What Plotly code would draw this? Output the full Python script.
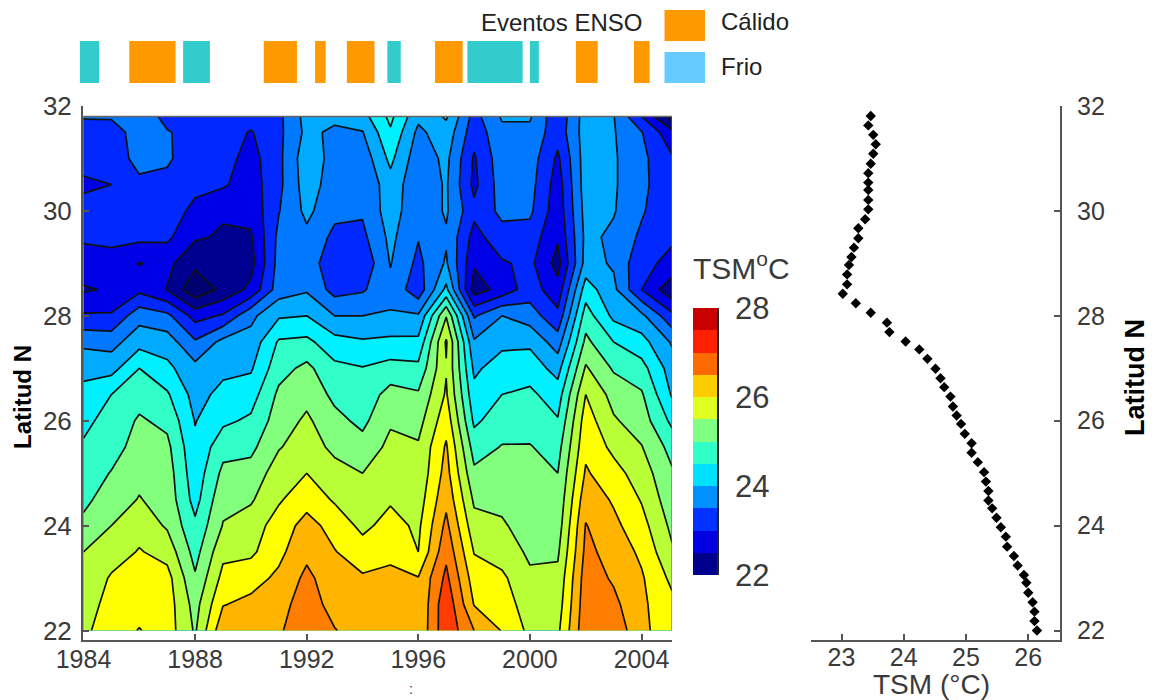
import numpy as np
import plotly.graph_objects as go

W, H = 1156, 700

# ---- Data ----
YEARS = [1984, 1985, 1986, 1987, 1988, 1989, 1990, 1991, 1992, 1993, 1994,
         1995, 1996, 1997, 1998, 1999, 2000, 2001, 2002, 2003, 2004, 2005.1]
LATS = [22, 22.5, 23, 23.5, 24, 24.5, 25, 25.5, 26, 26.5, 27, 27.5, 28, 28.5,
        29, 29.5, 30, 30.5, 31, 31.5, 31.8]

T1984 = [25.72,25.6,25.46,25.4,25.1,24.9,24.8,24.65,24.5,24.3,24.1,23.7,23.05,22.55,22.85,23.05,23.1,22.95,23.1,23.15,23.45]
T1985 = [26.0,25.95,25.85,25.6,25.4,25.2,25.02,24.85,24.75,24.6,24.05,23.65,23.05,22.65,22.85,23.1,23.2,23.0,23.15,23.2,23.45]
T1986 = [26.22,26.05,25.95,25.83,25.65,25.42,25.3,25.15,25.05,24.85,24.6,24.05,23.65,22.9,22.58,23.1,23.15,23.3,23.55,23.6,23.6]
T1987 = [26.0,26.0,25.95,25.65,25.35,25.25,25.2,25.1,24.9,24.65,24.3,24.0,23.5,22.58,22.7,23.08,23.2,23.3,23.45,23.42,23.3]
T1988 = [25.35,25.25,25.05,24.85,24.68,24.45,24.35,24.28,24.18,24.05,23.92,23.45,22.85,21.9,22.3,22.65,22.9,23.1,23.2,23.3,23.4]
T1989 = [26.5,26.18,25.92,25.7,25.42,25.3,25.1,24.85,24.52,24.32,24.1,23.92,23.05,22.3,22.3,22.55,22.65,23.05,23.15,23.2,23.35]
T1990 = [26.5,26.3,26.05,25.72,25.6,25.35,25.15,24.9,24.67,24.42,24.15,23.95,23.7,22.7,22.45,22.55,22.72,22.8,22.85,22.97,23.2]
T1991 = [26.55,26.45,26.28,26.1,25.98,25.75,25.6,25.37,25.2,25.08,24.85,24.65,24.15,23.6,23.55,23.5,23.38,23.3,23.3,23.3,23.3]
T1992 = [26.85,26.8,26.7,26.5,26.35,26.05,25.8,25.6,25.47,25.28,25.1,24.7,24.2,23.75,23.6,23.7,23.9,24.0,24.05,23.9,23.95]
T1993 = [26.62,26.45,26.35,26.22,26.05,25.75,25.55,25.3,25.12,24.9,24.7,24.35,23.8,23.25,23.15,23.3,23.5,23.6,23.65,23.72,23.9]
T1994 = [26.42,26.35,26.25,25.98,25.7,25.6,25.4,25.15,24.9,24.75,24.62,24.25,23.8,23.35,23.1,23.3,23.45,23.42,23.55,23.78,24.05]
T1995 = [26.38,26.3,26.25,26.15,25.95,25.75,25.6,25.5,25.35,25.15,24.75,24.3,23.83,23.7,23.82,23.9,24.0,24.05,24.3,24.55,24.7]
T1996 = [26.25,26.22,26.22,25.8,25.72,25.6,25.5,25.45,25.25,25.05,24.7,24.3,23.85,23.15,23.3,23.42,23.5,23.5,23.55,23.7,23.9]
T1997 = [27.3,27.3,27.1,26.9,26.7,26.5,26.35,26.25,26.05,25.85,25.77,25.85,25.38,24.3,23.85,23.75,23.85,23.85,23.9,24.05,24.25]
T1998 = [26.6,26.18,26.0,25.78,25.55,25.33,25.08,24.82,24.52,24.32,24.12,23.85,23.35,22.4,22.65,22.85,23.1,22.9,22.95,23.15,23.25]
T1999 = [26.18,26.0,25.88,25.62,25.45,25.3,25.15,25.02,24.82,24.6,24.4,24.1,23.8,22.75,22.95,23.25,23.5,23.6,23.65,23.7,23.85]
T2000 = [25.7,25.6,25.47,25.33,25.22,25.15,25.08,25.02,24.85,24.68,24.42,24.12,23.6,23.2,23.1,23.22,23.48,23.55,23.6,23.7,23.85]
T2001 = [25.72,25.6,25.5,25.34,25.2,25.1,25.0,24.85,24.63,24.4,24.05,23.6,23.1,22.75,22.45,22.65,22.75,22.8,22.93,23.15,23.1]
T2002 = [26.9,26.85,26.8,26.7,26.62,26.45,26.25,26.1,26.0,25.8,25.45,25.1,24.8,24.4,23.95,23.9,23.95,24.0,24.0,24.0,24.0]
T2003 = [26.88,26.7,26.55,26.45,26.3,26.15,25.95,25.7,25.45,25.25,24.95,24.6,24.1,23.9,23.75,23.72,23.83,23.85,23.85,23.83,23.82]
T2004 = [26.3,26.28,26.25,26.12,25.95,25.77,25.6,25.42,25.2,25.05,24.75,24.35,23.9,23.0,23.1,23.32,23.45,23.5,23.5,23.42,23.0]
T2005 = [25.95,25.9,25.7,25.45,25.3,25.15,25.05,24.85,24.5,24.15,24.0,23.75,23.1,22.3,22.9,23.05,23.05,23.1,23.05,22.7,22.0]

COLUMNS = [T1984, T1985, T1986, T1987, T1988, T1989, T1990, T1991, T1992, T1993, T1994,
           T1995, T1996, T1997, T1998, T1999, T2000, T2001, T2002, T2003, T2004, T2005]

PROFILE_LAT = [31.81,31.63,31.45,31.27,31.09,30.90,30.72,30.54,30.40,30.21,30.03,29.84,29.67,29.48,29.30,
               29.12,28.97,28.79,28.60,28.42,28.24,28.06,27.87,27.69,27.51,27.36,27.18,26.99,26.81,26.64,
               26.46,26.27,26.10,25.94,25.75,25.57,25.39,25.21,25.02,24.84,24.66,24.48,24.33,24.15,23.97,
               23.79,23.60,23.42,23.24,23.06,22.91,22.72,22.54,22.36,22.18,22.00]
PROFILE_TSM = [23.47,23.43,23.51,23.55,23.51,23.47,23.43,23.43,23.43,23.43,23.43,23.38,23.27,23.27,23.20,
               23.16,23.12,23.09,23.09,23.02,23.23,23.47,23.73,23.77,24.03,24.25,24.38,24.51,24.59,24.65,
               24.75,24.79,24.85,24.92,24.98,25.09,25.09,25.19,25.29,25.32,25.36,25.36,25.42,25.49,25.56,
               25.64,25.66,25.77,25.83,25.93,25.97,26.00,26.07,26.10,26.10,26.14]

WARM_START = [1985.64, 1990.46, 1992.30, 1993.44, 1996.60, 2001.65, 2003.73]
WARM_END = [1987.30, 1991.65, 1992.68, 1994.43, 1997.59, 2002.43, 2004.29]
COLD_START = [1983.87, 1987.57, 1994.89, 1997.76, 2000.00]
COLD_END = [1984.56, 1988.53, 1995.37, 1999.74, 2000.32]

BAR_LEVELS = [22.25, 22.75, 23.25, 23.75, 24.25, 24.75, 25.25, 25.75, 26.25, 26.75, 27.25, 27.75]
BAR_COLORS = ["#00008C", "#0000E0", "#0033FF", "#0090FF", "#00E0FF", "#30FFC8",
              "#80FF80", "#E0FF20", "#FFCC00", "#FF6A00", "#FF2000", "#C80000"]
MAP_COLORS = ["#000070", "#000090", "#0000E6", "#0028FF", "#0078FF", "#00AAFF", "#00F0FF",
              "#32FFC8", "#82FF7D", "#B9FF37", "#FFFF00", "#FFB400", "#FF7D00", "#FF3C00"]

LEFT_TICKS_X = [1984, 1988, 1992, 1996, 2000, 2004]
LAT_TICKS = [22, 24, 26, 28, 30, 32]
RIGHT_TICKS_X = [23, 24, 25, 26]
BAR_TICKS = [22, 24, 26, 28]

FONT = "Liberation Sans"
INK = "#3a3a3a"
AXC = "#555555"


def hx(a, b):
    return [a / W, b / W]


def vy(top, bottom):
    return [1 - bottom / H, 1 - top / H]


def steps(colors):
    out = []
    n = len(colors)
    for i, c in enumerate(colors):
        out.append([i / n, c])
        out.append([(i + 1) / n, c])
    return out


fig = go.Figure()

# Main contour map
fig.add_trace(go.Contour(
    x=YEARS, y=LATS, z=np.array(COLUMNS).T.tolist(),
    zmin=21.8, zmax=27.4,
    colorscale=steps(MAP_COLORS), showscale=False,
    contours=dict(start=22.2, end=27.0, size=0.4, coloring="fill", showlines=True),
    line=dict(color="#111111", width=1.7, smoothing=0),
    xaxis="x", yaxis="y", hoverinfo="skip",
))

# Latitudinal mean profile
fig.add_trace(go.Scatter(
    x=PROFILE_TSM, y=PROFILE_LAT, mode="markers",
    marker=dict(symbol="diamond", size=8, color="black"),
    xaxis="x2", yaxis="y2", hoverinfo="skip",
))

# Colour bar
fig.add_trace(go.Heatmap(
    x=[0], y=BAR_LEVELS, z=[[v] for v in BAR_LEVELS],
    zmin=22, zmax=28, colorscale=steps(BAR_COLORS), showscale=False,
    xaxis="x3", yaxis="y3", hoverinfo="skip",
))

# ENSO event strip
fig.add_trace(go.Bar(
    orientation="h", y=[1] * len(WARM_START), base=WARM_START,
    x=[b - a for a, b in zip(WARM_START, WARM_END)], width=1,
    marker=dict(color="#FF9900", line=dict(width=0)), xaxis="x4", yaxis="y4", hoverinfo="skip",
))
fig.add_trace(go.Bar(
    orientation="h", y=[1] * len(COLD_START), base=COLD_START,
    x=[b - a for a, b in zip(COLD_START, COLD_END)], width=1,
    marker=dict(color="#33CCCC", line=dict(width=0)), xaxis="x4", yaxis="y4", hoverinfo="skip",
))

ax_common = dict(showgrid=False, zeroline=False, showline=True, linecolor=AXC, linewidth=2,
                 automargin=False, ticks="inside", ticklen=6, tickwidth=1.5, tickcolor=AXC)

strip_x = [70, 660]
px_per_year = 27.9
year_at = lambda p: 1984 + (p - 83.5) / px_per_year

fig.update_layout(
    width=W, height=H, autosize=False, showlegend=False, barmode="overlay",
    paper_bgcolor="white", plot_bgcolor="white",
    margin=dict(l=0, r=0, t=0, b=0, pad=0),
    xaxis=dict(domain=hx(83, 672), range=[year_at(83), year_at(672)], tickvals=LEFT_TICKS_X,
               anchor="y", ticklabelstandoff=-4,
               tickfont=dict(family=FONT, size=25, color=INK), **ax_common),
    yaxis=dict(domain=vy(106, 640), range=[21.82, 32], tickvals=LAT_TICKS, anchor="x",
               ticklabelstandoff=4, tickfont=dict(family=FONT, size=26, color=INK), **ax_common),
    xaxis2=dict(domain=hx(811, 1060), range=[22.51, 26.51], tickvals=RIGHT_TICKS_X, anchor="y2",
                ticklabelstandoff=-6, tickfont=dict(family=FONT, size=25, color=INK), **ax_common),
    yaxis2=dict(domain=vy(106, 640), range=[21.82, 32], tickvals=LAT_TICKS, anchor="x2", side="right",
                ticklabelstandoff=10, tickfont=dict(family=FONT, size=25, color=INK), **ax_common),
    xaxis3=dict(domain=hx(693, 717), anchor="y3", visible=False, showgrid=False, zeroline=False,
                automargin=False),
    yaxis3=dict(domain=vy(308, 575), range=[22, 28], anchor="x3", side="right", tickvals=BAR_TICKS,
                showgrid=False, zeroline=False, showline=True, linecolor="#222222", linewidth=1.5,
                automargin=False, ticks="", ticklabelstandoff=10,
                tickfont=dict(family=FONT, size=31, color=INK)),
    xaxis4=dict(domain=hx(*strip_x), range=[year_at(strip_x[0]), year_at(strip_x[1])], anchor="y4",
                visible=False, showgrid=False, zeroline=False, automargin=False),
    yaxis4=dict(domain=vy(41, 83), range=[0.5, 1.5], anchor="x4", visible=False,
                showgrid=False, zeroline=False, automargin=False),
    shapes=[
        # frame on top and right of the map
        dict(type="line", xref="x", yref="y", x0=YEARS[0], x1=YEARS[-1], y0=LATS[-1], y1=LATS[-1],
             line=dict(color="#666666", width=1.5)),
        dict(type="line", xref="x", yref="y", x0=YEARS[-1], x1=YEARS[-1], y0=LATS[0], y1=LATS[-1],
             line=dict(color="#666666", width=1.5)),
        # legend swatches
        dict(type="rect", xref="paper", yref="paper", x0=664.5 / W, x1=705 / W, y0=1 - 41 / H, y1=1 - 10 / H,
             fillcolor="#FF9900", line=dict(width=0)),
        dict(type="rect", xref="paper", yref="paper", x0=664.5 / W, x1=705 / W, y0=1 - 83 / H, y1=1 - 52 / H,
             fillcolor="#66CCFF", line=dict(width=0)),
    ],
)


def label(text, x, y, size, color="#222222", bold=False, angle=0, anchor="center"):
    fig.add_annotation(
        text=f"<b>{text}</b>" if bold else text, xref="paper", yref="paper",
        x=x / W, y=1 - y / H, xanchor=anchor, yanchor="middle", showarrow=False, textangle=angle,
        font=dict(family=FONT, size=size, color=color),
    )


label("Eventos ENSO", 644, 22, 24, anchor="right")
label("Cálido", 719, 21, 24, anchor="left")
label("Frio", 719, 66, 24, anchor="left")
label("TSM<sup>o</sup>C", 741, 266, 30, color=INK)
label("Latitud N", 22, 397, 24, color="#000000", bold=True, angle=-90)
label("Latitud N", 1135, 378, 27, color="#000000", bold=True, angle=-90)
label("TSM (°C)", 931, 684, 28, color=INK)
label(":", 411, 689, 14, color=INK)

fig.write_html("out.html", config=dict(displayModeBar=False),
               post_script="document.body.style.margin='0';document.documentElement.style.overflow='hidden';")
